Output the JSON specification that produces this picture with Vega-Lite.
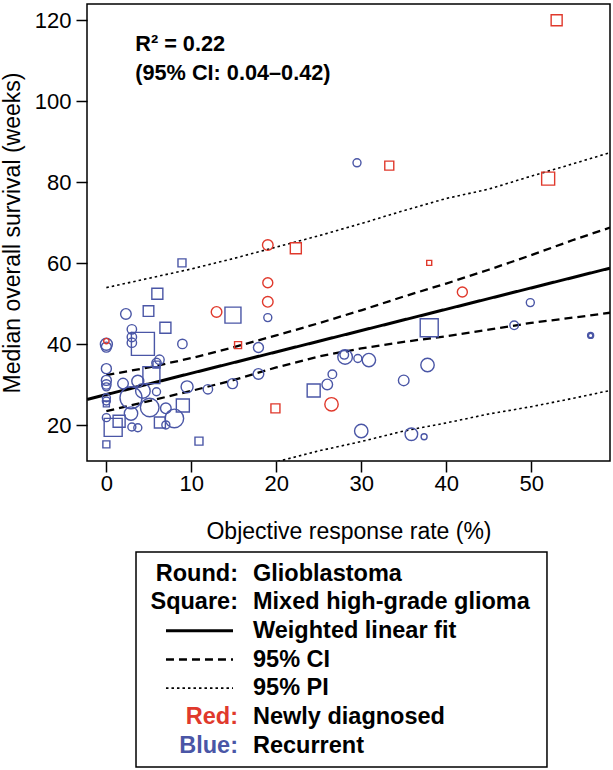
{
  "$schema": "https://vega.github.io/schema/vega-lite/v6.json",
  "padding": {"left": 0, "top": 3, "right": 4, "bottom": 0},
  "spacing": 7,
  "config": {
    "font": "Liberation Sans",
    "view": {"stroke": "black", "strokeWidth": 1.5},
    "axis": {
      "grid": false, "domain": false, "tickColor": "black", "tickWidth": 1.5, "tickSize": 11,
      "labelColor": "black", "labelFontSize": 22, "labelFont": "Liberation Sans",
      "titleFontSize": 23, "titleFontWeight": "normal", "titleColor": "black", "titleFont": "Liberation Sans"
    }
  },
  "resolve": {"scale": {"x": "independent", "y": "independent", "color": "independent", "strokeDash": "independent", "strokeWidth": "independent"}},
  "datasets": {
    "points": [
      {"x": 2.3, "y": 47.5, "w": 5.3, "tumor": "GBM", "setting": "Recurrent"},
      {"x": 3.0, "y": 43.7, "w": 4.7, "tumor": "GBM", "setting": "Recurrent"},
      {"x": 3.0, "y": 41.8, "w": 4.7, "tumor": "GBM", "setting": "Recurrent"},
      {"x": 3.0, "y": 40.4, "w": 4.7, "tumor": "GBM", "setting": "Recurrent"},
      {"x": 0, "y": 40.0, "w": 6, "tumor": "GBM", "setting": "Recurrent"},
      {"x": 0, "y": 39.3, "w": 5, "tumor": "GBM", "setting": "Recurrent"},
      {"x": 8.95, "y": 40.1, "w": 4.7, "tumor": "GBM", "setting": "Recurrent"},
      {"x": 17.9, "y": 39.2, "w": 5, "tumor": "GBM", "setting": "Recurrent"},
      {"x": 0, "y": 34.0, "w": 5, "tumor": "GBM", "setting": "Recurrent"},
      {"x": 6.25, "y": 36.2, "w": 4.7, "tumor": "GBM", "setting": "Recurrent"},
      {"x": 5.9, "y": 35.4, "w": 4.7, "tumor": "GBM", "setting": "Recurrent"},
      {"x": 0, "y": 31.1, "w": 5, "tumor": "GBM", "setting": "Recurrent"},
      {"x": 0, "y": 30.1, "w": 4.7, "tumor": "GBM", "setting": "Recurrent"},
      {"x": 0, "y": 29.5, "w": 4, "tumor": "GBM", "setting": "Recurrent"},
      {"x": 1.96, "y": 30.3, "w": 5.3, "tumor": "GBM", "setting": "Recurrent"},
      {"x": 3.7, "y": 30.9, "w": 6, "tumor": "GBM", "setting": "Recurrent"},
      {"x": 4.3, "y": 28.5, "w": 7.3, "tumor": "GBM", "setting": "Recurrent"},
      {"x": 2.9, "y": 26.8, "w": 11, "tumor": "GBM", "setting": "Recurrent"},
      {"x": 5.9, "y": 28.3, "w": 4, "tumor": "GBM", "setting": "Recurrent"},
      {"x": 9.5, "y": 29.5, "w": 6, "tumor": "GBM", "setting": "Recurrent"},
      {"x": 11.95, "y": 28.9, "w": 4.7, "tumor": "GBM", "setting": "Recurrent"},
      {"x": 14.85, "y": 30.3, "w": 5, "tumor": "GBM", "setting": "Recurrent"},
      {"x": 17.9, "y": 32.7, "w": 5.3, "tumor": "GBM", "setting": "Recurrent"},
      {"x": 0, "y": 26.8, "w": 4, "tumor": "GBM", "setting": "Recurrent"},
      {"x": 0, "y": 26.0, "w": 4, "tumor": "GBM", "setting": "Recurrent"},
      {"x": 2.9, "y": 22.9, "w": 6.7, "tumor": "GBM", "setting": "Recurrent"},
      {"x": 3.0, "y": 19.6, "w": 4, "tumor": "GBM", "setting": "Recurrent"},
      {"x": 3.7, "y": 19.4, "w": 4, "tumor": "GBM", "setting": "Recurrent"},
      {"x": 5.1, "y": 24.4, "w": 9.3, "tumor": "GBM", "setting": "Recurrent"},
      {"x": 7.0, "y": 24.2, "w": 5.3, "tumor": "GBM", "setting": "Recurrent"},
      {"x": 8.0, "y": 21.7, "w": 9.3, "tumor": "GBM", "setting": "Recurrent"},
      {"x": 7.0, "y": 20.1, "w": 4, "tumor": "GBM", "setting": "Recurrent"},
      {"x": 0, "y": 21.9, "w": 4, "tumor": "GBM", "setting": "Recurrent"},
      {"x": 19.0, "y": 46.6, "w": 4, "tumor": "GBM", "setting": "Recurrent"},
      {"x": 26.0, "y": 30.1, "w": 5.3, "tumor": "GBM", "setting": "Recurrent"},
      {"x": 26.6, "y": 32.6, "w": 4.3, "tumor": "GBM", "setting": "Recurrent"},
      {"x": 28.1, "y": 36.9, "w": 7.3, "tumor": "GBM", "setting": "Recurrent"},
      {"x": 28.0, "y": 37.4, "w": 4.3, "tumor": "GBM", "setting": "Recurrent"},
      {"x": 29.6, "y": 36.5, "w": 4, "tumor": "GBM", "setting": "Recurrent"},
      {"x": 30.9, "y": 36.1, "w": 6.7, "tumor": "GBM", "setting": "Recurrent"},
      {"x": 30.0, "y": 18.6, "w": 6.7, "tumor": "GBM", "setting": "Recurrent"},
      {"x": 37.8, "y": 34.9, "w": 6.7, "tumor": "GBM", "setting": "Recurrent"},
      {"x": 35.0, "y": 31.1, "w": 5.3, "tumor": "GBM", "setting": "Recurrent"},
      {"x": 35.9, "y": 17.8, "w": 6.3, "tumor": "GBM", "setting": "Recurrent"},
      {"x": 37.4, "y": 17.2, "w": 3, "tumor": "GBM", "setting": "Recurrent"},
      {"x": 29.5, "y": 84.8, "w": 4, "tumor": "GBM", "setting": "Recurrent"},
      {"x": 49.9, "y": 50.3, "w": 4, "tumor": "GBM", "setting": "Recurrent"},
      {"x": 48.0, "y": 44.7, "w": 4.3, "tumor": "GBM", "setting": "Recurrent"},
      {"x": 57.0, "y": 42.2, "w": 3, "tumor": "GBM", "setting": "Recurrent"},
      {"x": 57.0, "y": 42.2, "w": 2.2, "tumor": "GBM", "setting": "Recurrent"},
      {"x": 4.96, "y": 48.2, "w": 5.3, "tumor": "Mixed", "setting": "Recurrent"},
      {"x": 14.9, "y": 47.2, "w": 8, "tumor": "Mixed", "setting": "Recurrent"},
      {"x": 6.95, "y": 44.1, "w": 5.5, "tumor": "Mixed", "setting": "Recurrent"},
      {"x": 4.3, "y": 40.1, "w": 11.5, "tumor": "Mixed", "setting": "Recurrent"},
      {"x": 5.9, "y": 35.0, "w": 3.5, "tumor": "Mixed", "setting": "Recurrent"},
      {"x": 5.3, "y": 32.4, "w": 8.5, "tumor": "Mixed", "setting": "Recurrent"},
      {"x": 0, "y": 25.3, "w": 3, "tumor": "Mixed", "setting": "Recurrent"},
      {"x": 0.8, "y": 19.5, "w": 9, "tumor": "Mixed", "setting": "Recurrent"},
      {"x": 1.5, "y": 21.0, "w": 6, "tumor": "Mixed", "setting": "Recurrent"},
      {"x": 9.0, "y": 24.9, "w": 6.5, "tumor": "Mixed", "setting": "Recurrent"},
      {"x": 6.3, "y": 20.7, "w": 5.5, "tumor": "Mixed", "setting": "Recurrent"},
      {"x": 10.9, "y": 16.1, "w": 4, "tumor": "Mixed", "setting": "Recurrent"},
      {"x": 0, "y": 15.3, "w": 3.5, "tumor": "Mixed", "setting": "Recurrent"},
      {"x": 8.9, "y": 60.1, "w": 4, "tumor": "Mixed", "setting": "Recurrent"},
      {"x": 6.0, "y": 52.5, "w": 5.5, "tumor": "Mixed", "setting": "Recurrent"},
      {"x": 24.4, "y": 28.6, "w": 6.5, "tumor": "Mixed", "setting": "Recurrent"},
      {"x": 38.0, "y": 44.1, "w": 9, "tumor": "Mixed", "setting": "Recurrent"},
      {"x": 0, "y": 40.8, "w": 2.7, "tumor": "GBM", "setting": "Newly diagnosed"},
      {"x": 12.97, "y": 48.0, "w": 5.3, "tumor": "GBM", "setting": "Newly diagnosed"},
      {"x": 19.0, "y": 64.5, "w": 5.3, "tumor": "GBM", "setting": "Newly diagnosed"},
      {"x": 19.0, "y": 55.2, "w": 5, "tumor": "GBM", "setting": "Newly diagnosed"},
      {"x": 19.0, "y": 50.5, "w": 5.3, "tumor": "GBM", "setting": "Newly diagnosed"},
      {"x": 26.5, "y": 25.2, "w": 6.7, "tumor": "GBM", "setting": "Newly diagnosed"},
      {"x": 41.9, "y": 52.9, "w": 5, "tumor": "GBM", "setting": "Newly diagnosed"},
      {"x": 15.5, "y": 39.8, "w": 3.5, "tumor": "Mixed", "setting": "Newly diagnosed"},
      {"x": 22.3, "y": 63.7, "w": 5.5, "tumor": "Mixed", "setting": "Newly diagnosed"},
      {"x": 38.0, "y": 60.1, "w": 2.5, "tumor": "Mixed", "setting": "Newly diagnosed"},
      {"x": 19.9, "y": 24.2, "w": 4.5, "tumor": "Mixed", "setting": "Newly diagnosed"},
      {"x": 33.3, "y": 84.1, "w": 4.5, "tumor": "Mixed", "setting": "Newly diagnosed"},
      {"x": 53.0, "y": 120.0, "w": 5.5, "tumor": "Mixed", "setting": "Newly diagnosed"},
      {"x": 52.0, "y": 80.9, "w": 6.5, "tumor": "Mixed", "setting": "Newly diagnosed"}
    ],
    "curves": [
      {"band": "fit", "series": "fit", "x": -2.28, "y": 26.4},
      {"band": "fit", "series": "fit", "x": 59.28, "y": 58.8},
      {"band": "CI", "series": "CI upper", "x": 0, "y": 32.4},
      {"band": "CI", "series": "CI upper", "x": 5, "y": 34.3},
      {"band": "CI", "series": "CI upper", "x": 10, "y": 36.6},
      {"band": "CI", "series": "CI upper", "x": 15, "y": 39.3},
      {"band": "CI", "series": "CI upper", "x": 20, "y": 42.2},
      {"band": "CI", "series": "CI upper", "x": 25, "y": 45.2},
      {"band": "CI", "series": "CI upper", "x": 30, "y": 48.4},
      {"band": "CI", "series": "CI upper", "x": 35, "y": 51.8},
      {"band": "CI", "series": "CI upper", "x": 40, "y": 55.0},
      {"band": "CI", "series": "CI upper", "x": 45, "y": 58.4},
      {"band": "CI", "series": "CI upper", "x": 50, "y": 62.0},
      {"band": "CI", "series": "CI upper", "x": 55, "y": 65.8},
      {"band": "CI", "series": "CI upper", "x": 59.28, "y": 68.8},
      {"band": "CI", "series": "CI lower", "x": 0, "y": 23.5},
      {"band": "CI", "series": "CI lower", "x": 5, "y": 26.0},
      {"band": "CI", "series": "CI lower", "x": 10, "y": 28.5},
      {"band": "CI", "series": "CI lower", "x": 15, "y": 31.2},
      {"band": "CI", "series": "CI lower", "x": 20, "y": 34.3},
      {"band": "CI", "series": "CI lower", "x": 25, "y": 37.0},
      {"band": "CI", "series": "CI lower", "x": 30, "y": 39.0},
      {"band": "CI", "series": "CI lower", "x": 35, "y": 40.6},
      {"band": "CI", "series": "CI lower", "x": 40, "y": 42.0},
      {"band": "CI", "series": "CI lower", "x": 45, "y": 43.6},
      {"band": "CI", "series": "CI lower", "x": 50, "y": 45.3},
      {"band": "CI", "series": "CI lower", "x": 55, "y": 46.6},
      {"band": "CI", "series": "CI lower", "x": 59.28, "y": 47.8},
      {"band": "PI", "series": "PI upper", "x": 0, "y": 54.0},
      {"band": "PI", "series": "PI upper", "x": 5, "y": 56.3},
      {"band": "PI", "series": "PI upper", "x": 10, "y": 58.6},
      {"band": "PI", "series": "PI upper", "x": 15, "y": 61.2},
      {"band": "PI", "series": "PI upper", "x": 20, "y": 64.0},
      {"band": "PI", "series": "PI upper", "x": 25, "y": 66.8},
      {"band": "PI", "series": "PI upper", "x": 30, "y": 69.8},
      {"band": "PI", "series": "PI upper", "x": 35, "y": 73.0},
      {"band": "PI", "series": "PI upper", "x": 40, "y": 76.0},
      {"band": "PI", "series": "PI upper", "x": 45, "y": 78.3},
      {"band": "PI", "series": "PI upper", "x": 50, "y": 81.5},
      {"band": "PI", "series": "PI upper", "x": 55, "y": 84.6},
      {"band": "PI", "series": "PI upper", "x": 59.28, "y": 87.3},
      {"band": "PI", "series": "PI lower", "x": 0, "y": 1.0},
      {"band": "PI", "series": "PI lower", "x": 5, "y": 3.7},
      {"band": "PI", "series": "PI lower", "x": 10, "y": 6.2},
      {"band": "PI", "series": "PI lower", "x": 15, "y": 8.7},
      {"band": "PI", "series": "PI lower", "x": 20, "y": 11.0},
      {"band": "PI", "series": "PI lower", "x": 25, "y": 13.7},
      {"band": "PI", "series": "PI lower", "x": 30, "y": 16.0},
      {"band": "PI", "series": "PI lower", "x": 35, "y": 18.6},
      {"band": "PI", "series": "PI lower", "x": 40, "y": 20.6},
      {"band": "PI", "series": "PI lower", "x": 45, "y": 22.8},
      {"band": "PI", "series": "PI lower", "x": 50, "y": 24.6},
      {"band": "PI", "series": "PI lower", "x": 55, "y": 26.7},
      {"band": "PI", "series": "PI lower", "x": 59.28, "y": 28.6}
    ],
    "annot": [{"text": "R² = 0.22\n(95% CI: 0.04–0.42)"}],
    "legend": [
      {"row": 1, "kind": "shape", "label": "Round:", "desc": "Glioblastoma"},
      {"row": 2, "kind": "shape", "label": "Square:", "desc": "Mixed high-grade glioma"},
      {"row": 3, "kind": "line", "label": "", "desc": "Weighted linear fit"},
      {"row": 4, "kind": "line", "label": "", "desc": "95% CI"},
      {"row": 5, "kind": "line", "label": "", "desc": "95% PI"},
      {"row": 6, "kind": "Newly diagnosed", "label": "Red:", "desc": "Newly diagnosed"},
      {"row": 7, "kind": "Recurrent", "label": "Blue:", "desc": "Recurrent"}
    ]
  },
  "vconcat": [
    {
      "width": 523,
      "height": 457,
      "layer": [
        {
          "data": {"name": "curves"},
          "mark": {"type": "line", "clip": true, "color": "black"},
          "encoding": {
            "x": {"field": "x", "type": "quantitative", "scale": {"domain": [-2.28, 59.28], "nice": false, "zero": false},
                  "axis": {"values": [0, 10, 20, 30, 40, 50], "title": "Objective response rate (%)", "labelPadding": 1, "titlePadding": 26}},
            "y": {"field": "y", "type": "quantitative", "scale": {"domain": [11.2, 124.0], "nice": false, "zero": false},
                  "axis": {"values": [20, 40, 60, 80, 100, 120], "title": "Median overall survival (weeks)", "labelPadding": 5, "titlePadding": 10}},
            "detail": {"field": "series"},
            "strokeDash": {"field": "band", "type": "nominal", "scale": {"domain": ["fit", "CI", "PI"], "range": [[1, 0], [8, 5], [2.5, 3]]}, "legend": null},
            "strokeWidth": {"field": "band", "type": "nominal", "scale": {"domain": ["fit", "CI", "PI"], "range": [3, 1.6, 1.6]}, "legend": null}
          }
        },
        {
          "data": {"name": "points"},
          "mark": {"type": "point", "filled": false, "strokeWidth": 1.4, "opacity": 1},
          "encoding": {
            "x": {"field": "x", "type": "quantitative"},
            "y": {"field": "y", "type": "quantitative"},
            "shape": {"field": "tumor", "type": "nominal", "scale": {"domain": ["GBM", "Mixed"], "range": ["circle", "square"]}, "legend": null},
            "color": {"field": "setting", "type": "nominal", "scale": {"domain": ["Newly diagnosed", "Recurrent"], "range": ["#e0392c", "#4a56a6"]}, "legend": null},
            "size": {"field": "w", "type": "quantitative", "scale": {"type": "pow", "exponent": 2, "domain": [0, 10], "range": [0, 400]}, "legend": null}
          }
        },
        {
          "data": {"name": "annot"},
          "mark": {"type": "text", "align": "left", "baseline": "alphabetic", "fontWeight": "bold", "fontSize": 21.7, "lineHeight": 28.7, "lineBreak": "\n", "color": "black"},
          "encoding": {
            "x": {"datum": 3.4, "type": "quantitative"},
            "y": {"datum": 112.4, "type": "quantitative"},
            "text": {"field": "text"}
          }
        }
      ]
    },
    {
      "width": 523,
      "height": 215,
      "view": {"stroke": null},
      "data": {"name": "legend"},
      "layer": [
        {
          "mark": {"type": "rect", "filled": false, "stroke": "black", "strokeWidth": 1.5},
          "transform": [{"filter": "datum.row == 1"}],
          "encoding": {
            "x": {"datum": 0.0937, "type": "quantitative", "scale": {"domain": [0, 1], "nice": false, "zero": false}, "axis": null},
            "x2": {"datum": 0.8795}
          }
        },
        {
          "mark": {"type": "text", "align": "right", "baseline": "middle", "fontWeight": "bold", "fontSize": 23.5},
          "encoding": {
            "x": {"datum": 0.2887, "type": "quantitative"},
            "y": {"field": "row", "type": "ordinal", "scale": {"type": "point", "padding": 0.75}, "axis": null},
            "text": {"field": "label"},
            "color": {"field": "kind", "type": "nominal", "scale": {"domain": ["shape", "line", "Newly diagnosed", "Recurrent"], "range": ["black", "black", "#e0392c", "#4a56a6"]}, "legend": null}
          }
        },
        {
          "mark": {"type": "text", "align": "left", "baseline": "middle", "fontWeight": "bold", "fontSize": 23.5, "color": "black"},
          "encoding": {
            "x": {"datum": 0.3174, "type": "quantitative"},
            "y": {"field": "row", "type": "ordinal"},
            "text": {"field": "desc"}
          }
        },
        {
          "transform": [{"filter": "datum.kind == 'line'"}],
          "mark": {"type": "rule", "color": "black"},
          "encoding": {
            "x": {"datum": 0.151, "type": "quantitative"},
            "x2": {"datum": 0.2792},
            "y": {"field": "row", "type": "ordinal"},
            "strokeDash": {"field": "desc", "type": "nominal", "scale": {"domain": ["Weighted linear fit", "95% CI", "95% PI"], "range": [[1, 0], [8, 5], [2.5, 3]]}, "legend": null},
            "strokeWidth": {"field": "desc", "type": "nominal", "scale": {"domain": ["Weighted linear fit", "95% CI", "95% PI"], "range": [3, 1.6, 1.6]}, "legend": null}
          }
        }
      ]
    }
  ]
}
